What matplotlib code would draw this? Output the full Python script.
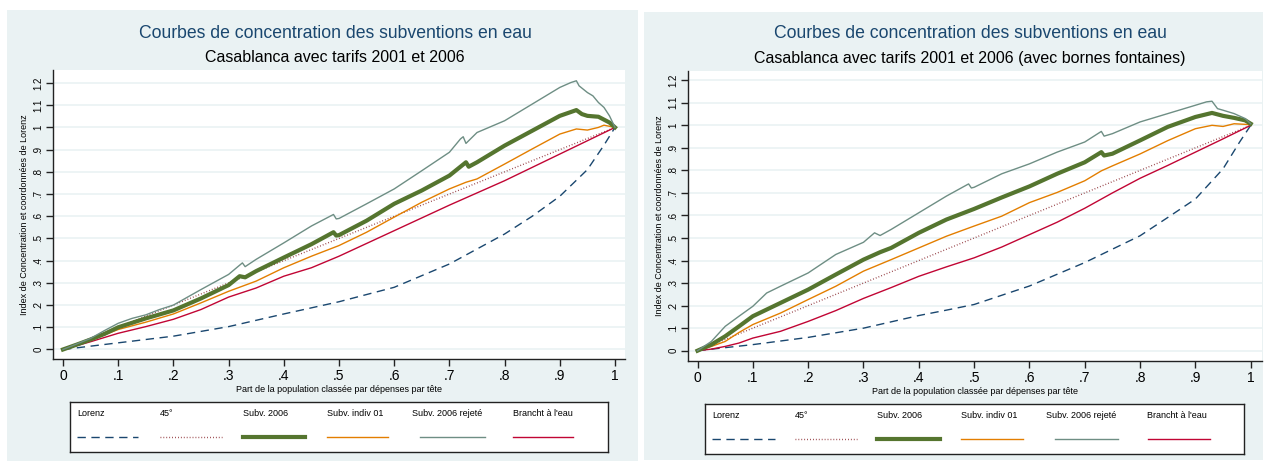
import matplotlib
matplotlib.use("Agg")
import matplotlib.pyplot as plt
from matplotlib.patches import Rectangle
import numpy as np

plt.rcParams['font.family'] = ['Liberation Sans', 'DejaVu Sans']

W, H = 1268, 463
BG = '#eaf2f3'

titre = "Courbes de concentration des subventions en eau"
sous_titres = ["Casablanca avec tarifs 2001 et 2006",
               "Casablanca avec tarifs 2001 et 2006 (avec bornes fontaines)"]
xlab = "Part de la population classée par dépenses par tête"
ylab = "Index de Concentration et coordonnées de Lorenz"
noms = ["Lorenz", "45°", "Subv. 2006", "Subv. indiv 01", "Subv. 2006 rejeté", "Brancht à l'eau"]
xticks = [0, .1, .2, .3, .4, .5, .6, .7, .8, .9, 1]
xtick_lab = ["0", ".1", ".2", ".3", ".4", ".5", ".6", ".7", ".8", ".9", "1"]
yticks = [0, .1, .2, .3, .4, .5, .6, .7, .8, .9, 1, 1.1, 1.2]
ytick_lab = ["0", ".1", ".2", ".3", ".4", ".5", ".6", ".7", ".8", ".9", "1", "1.1", "1.2"]

# ---- panneau gauche ----
lor_x_g = [0, .1, .2, .3, .4, .5, .6, .7, .8, .85, .9, .95, .98, 1]
lor_y_g = [0, .03, .06, .103, .16, .215, .28, .385, .52, .6, .69, .81, .92, 1]

rej_x_g = [0, .025, .05, .075, .1, .125, .15, .175, .2, .25, .3, .325, .33, .35, .4, .45, .49, .495, .5, .55, .6, .65,
           .7, .72, .725, .73, .75, .8, .85, .9, .92, .93, .935, .95, .96, .97, .98, .99, 1]
rej_y_g = [0, .025, .05, .085, .118, .14, .156, .18, .20, .27, .338, .39, .373, .406, .48, .556, .608, .588, .59, .656, .723, .805,
           .888, .948, .958, .928, .977, 1.03, 1.105, 1.18, 1.202, 1.21, 1.187, 1.157, 1.142, 1.112, 1.09, 1.052, 1.0]

s06_x_g = [0, .025, .05, .075, .1, .15, .2, .25, .3, .32, .33, .35, .4, .45, .49, .495, .5, .55, .6, .65, .7, .73, .735,
           .75, .8, .85, .9, .93, .94, .95, .97, .99, 1]
s06_y_g = [0, .022, .045, .07, .10, .14, .176, .23, .29, .33, .325, .353, .414, .474, .528, .513, .515, .58, .656, .716, .783,
           .843, .823, .843, .918, .985, 1.052, 1.078, 1.06, 1.052, 1.048, 1.022, 1.0]

ind_x_g = [0, .05, .1, .15, .2, .25, .3, .35, .4, .45, .5, .55, .6, .65, .7, .73, .75, .8, .85, .9, .93, .95, .97, .98, 1]
ind_y_g = [0, .042, .09, .123, .16, .21, .262, .308, .368, .42, .468, .528, .596, .663, .723, .753, .768, .835, .903, .97,
           .993, .988, 1.0, 1.01, 1.0]

br_x_g = [0, .05, .1, .15, .2, .25, .3, .35, .4, .45, .5, .6, .7, .8, .9, 1]
br_y_g = [0, .035, .073, .103, .136, .18, .236, .277, .33, .368, .42, .535, .65, .76, .88, 1.0]

# ---- panneau droit ----
lor_x_d = [0, .1, .2, .3, .4, .45, .5, .6, .7, .8, .85, .9, .95, .98, 1]
lor_y_d = [0, .027, .059, .10, .156, .18, .205, .287, .391, .51, .591, .673, .807, .926, 1]

rej_x_d = [0, .025, .05, .075, .1, .125, .15, .2, .25, .3, .32, .33, .35, .4, .45, .49, .495, .5, .55, .6, .65, .7, .73,
           .735, .75, .8, .85, .9, .92, .93, .94, .95, .97, .99, 1]
rej_y_d = [0, .041, .108, .153, .197, .256, .286, .345, .427, .481, .523, .511, .538, .612, .686, .74, .722, .725, .785,
           .829, .881, .926, .973, .952, .963, 1.015, 1.052, 1.089, 1.104, 1.107, 1.074, 1.067, 1.052, 1.03, 1.007]

s06_x_d = [0, .025, .05, .075, .1, .15, .2, .25, .3, .33, .35, .4, .45, .5, .55, .6, .65, .7, .73, .735, .75, .8, .85,
           .9, .93, .95, .97, .99, 1]
s06_y_d = [0, .027, .064, .108, .153, .212, .271, .338, .404, .437, .456, .523, .582, .629, .68, .729, .785, .836, .881,
           .866, .874, .933, .993, 1.037, 1.055, 1.042, 1.033, 1.022, 1.007]

ind_x_d = [0, .025, .05, .075, .1, .15, .2, .25, .3, .35, .4, .45, .5, .55, .6, .65, .7, .73, .75, .8, .85, .9, .93,
           .95, .97, 1]
ind_y_d = [0, .019, .041, .081, .116, .167, .227, .286, .353, .404, .456, .508, .553, .597, .657, .702, .754, .798, .82,
           .873, .932, .985, 1.0, .995, 1.007, 1.003]

br_x_d = [0, .025, .05, .075, .1, .15, .2, .25, .3, .35, .4, .45, .5, .55, .6, .65, .7, .75, .8, .85, .9, .95, 1]
br_y_d = [0, .007, .019, .034, .056, .086, .13, .178, .232, .28, .33, .372, .412, .46, .515, .57, .632, .7, .765,
          .822, .881, .94, 1.0]

couleurs = ['#1a476f', '#90353b', '#55752f', '#e37e00', '#6e8e84', '#c10534']
styles = [dict(ls=(0, (6, 4)), lw=1.0), dict(ls=(0, (0.6, 1.5)), lw=1.0),
          dict(ls='-', lw=3.0), dict(ls='-', lw=1.0), dict(ls='-', lw=1.0), dict(ls='-', lw=1.0)]

fig = plt.figure(figsize=(W / 100, H / 100), dpi=100)
fig.patch.set_facecolor('white')


def fr(x0, y0, x1, y1):
    # pixels (haut-gauche) -> coordonnées figure
    return [x0 / W, 1 - y1 / H, (x1 - x0) / W, (y1 - y0) / H]


def panneau(bg, axbox, xlim, ylim, sous_titre, series, legbox, leg_txt, leg_key, tx):
    fig.patches.append(Rectangle((bg[0] / W, 1 - bg[3] / H), (bg[2] - bg[0]) / W, (bg[3] - bg[1]) / H,
                                 transform=fig.transFigure, facecolor=BG, edgecolor='none', zorder=-10))
    ax = fig.add_axes(fr(*axbox))
    ax.set_zorder(2)
    ax.set_facecolor('white')
    for y in yticks:
        ax.axhline(y, color=BG, lw=1.2, zorder=1)
    ax.plot([0, 1], [0, 1], color=couleurs[1], zorder=2, **styles[1])
    for i in [0, 5, 3, 2, 4]:
        xs, ys = series[i]
        ax.plot(xs, ys, color=couleurs[i], zorder=3, solid_joinstyle='round', **styles[i])
    ax.set_xlim(*xlim)
    ax.set_ylim(*ylim)
    for s in ['top', 'right']:
        ax.spines[s].set_visible(False)
    for s in ['left', 'bottom']:
        ax.spines[s].set_color('#222222')
        ax.spines[s].set_linewidth(1.0)
    ax.set_xticks(xticks, xtick_lab, fontsize=10)
    ax.set_yticks(yticks, ytick_lab, fontsize=7, rotation=90, va='center')
    ax.tick_params(axis='both', direction='out', length=5, width=1, color='#222222', pad=2)
    ax.set_xlabel(xlab, fontsize=6.5, labelpad=2)
    ax.set_ylabel(ylab, fontsize=6.5, labelpad=3)
    fig.text(tx / W, 1 - 33 / H, titre, ha='center', va='center', fontsize=12.7, color='#1a476f')
    fig.text(tx / W, 1 - 58 / H, sous_titre, ha='center', va='center', fontsize=11.5, color='black')

    lg = fig.add_axes(fr(*legbox))
    lg.set_zorder(2)
    lg.set_xlim(legbox[0], legbox[2])
    lg.set_ylim(legbox[3], legbox[1])
    lg.set_xticks([])
    lg.set_yticks([])
    for s in lg.spines.values():
        s.set_linewidth(1.0)
        s.set_color('#222222')
    for i, nom in enumerate(noms):
        lg.text(leg_txt[i], legbox[1] + 12, nom, fontsize=6.5, va='center', ha='left')
        k0, k1 = leg_key[i]
        lg.plot([k0, k1], [legbox[1] + 35] * 2, color=couleurs[i], **styles[i])


panneau((7, 10, 638, 461), (53, 70, 625, 359), (-0.0181, 1.0181), (-0.0428, 1.2585), sous_titres[0],
        [(lor_x_g, lor_y_g), None, (s06_x_g, s06_y_g), (ind_x_g, ind_y_g), (rej_x_g, rej_y_g), (br_x_g, br_y_g)],
        (70, 402, 608, 452), [77, 160, 243, 327, 412, 513],
        [(77, 138), (160, 222), (243, 305), (327, 388), (420, 485), (513, 573)], 335)

panneau((644, 12, 1263, 460), (688, 71, 1262, 361), (-0.0172, 1.0204), (-0.0457, 1.241), sous_titres[1],
        [(lor_x_d, lor_y_d), None, (s06_x_d, s06_y_d), (ind_x_d, ind_y_d), (rej_x_d, rej_y_d), (br_x_d, br_y_d)],
        (705, 404, 1244, 454), [712, 795, 877, 961, 1046, 1147],
        [(712, 775), (795, 857), (877, 940), (961, 1023), (1055, 1118), (1148, 1210)], 970)

fig.savefig("out.png", dpi=100, facecolor='white')
